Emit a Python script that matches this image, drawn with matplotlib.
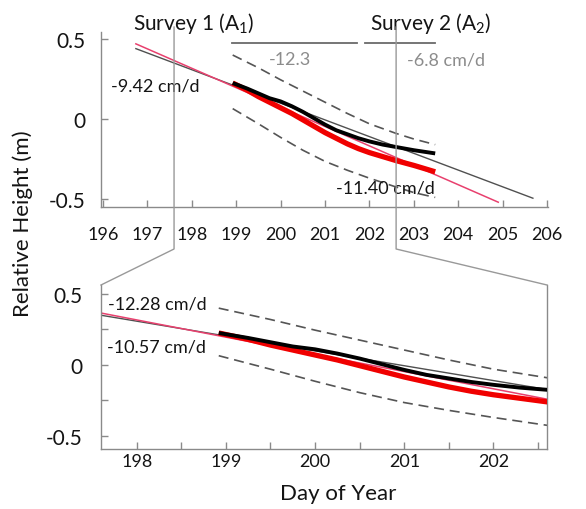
import matplotlib
matplotlib.use("Agg")
import matplotlib.pyplot as plt
from matplotlib.lines import Line2D
import numpy as np

plt.rcParams['font.family'] = ['Lato', 'DejaVu Sans']
plt.rcParams['mathtext.fontset'] = 'custom'
plt.rcParams['mathtext.rm'] = 'Lato'
plt.rcParams['mathtext.it'] = 'Lato'
plt.rcParams['axes.unicode_minus'] = False

# ---- data ----
days = [198.92, 199.25, 199.5, 199.75, 200.0, 200.25, 200.5, 200.75, 201.0, 201.25,
        201.5, 201.75, 202.0, 202.3, 202.6, 203.0, 203.48]
black = [0.225, 0.19, 0.16, 0.13, 0.11, 0.08, 0.045, 0.005, -0.035, -0.07,
         -0.095, -0.12, -0.14, -0.16, -0.175, -0.195, -0.215]
red = [0.225, 0.18, 0.14, 0.105, 0.07, 0.035, -0.005, -0.045, -0.085, -0.12,
       -0.155, -0.185, -0.21, -0.235, -0.26, -0.29, -0.33]

dash_days = [198.92, 199.5, 200.0, 200.5, 201.0, 201.5, 202.0, 202.6, 203.0, 203.48]
upper = [0.40, 0.32, 0.245, 0.175, 0.105, 0.035, -0.03, -0.09, -0.125, -0.16]
lower = [0.065, -0.03, -0.115, -0.195, -0.265, -0.32, -0.37, -0.425, -0.46, -0.49]

pink_x = [196.74, 204.9]
pink_y = [0.47, -0.52]
gray_x = [196.74, 205.68]
gray_y = [0.44, -0.495]

period_x = [[198.9, 201.72], [201.9, 203.48]]
period_y = 0.475

top_xticks = list(range(196, 207))
yticks = [0.5, 0, -0.5]
yticklabels = ['0.5', '0', '-0.5']
bot_xticks = [198, 199, 200, 201, 202]
bot_xminor = [198.5, 199.5, 200.5, 201.5, 202.5]
bot_yminor = [0.25, -0.25]

W, H = 586, 510
fig = plt.figure(figsize=(W / 100, H / 100), dpi=100)

def frac(l, t, r, b):
    return [l / W, 1 - b / H, (r - l) / W, (b - t) / H]

ax1 = fig.add_axes(frac(101, 33, 548, 208))
ax2 = fig.add_axes(frac(101, 286, 547, 450))

spine_c = '#8a8a8a'
text_c = '#141414'
gray_txt = '#8c8c8c'

for ax in (ax1, ax2):
    ax.spines['top'].set_visible(False)
    for s in ax.spines.values():
        s.set_color(spine_c)
        s.set_linewidth(1.0)
    ax.tick_params(direction='in', color=spine_c, length=5, width=1,
                   labelcolor=text_c)
    ax.tick_params(axis='x', labelsize=13)
    ax.tick_params(axis='y', labelsize=15)
    ax.tick_params(which='minor', direction='in', color=spine_c, length=5, width=1)
ax1.spines['right'].set_visible(False)

def draw(ax):
    ax.plot(gray_x, gray_y, color='#505050', lw=1.0, zorder=2)
    ax.plot(pink_x, pink_y, color='#e8406e', lw=1.1, zorder=2)
    ax.plot(dash_days, upper, color='#555555', lw=1.2, ls=(0, (6, 3.5)), zorder=2)
    ax.plot(dash_days, lower, color='#555555', lw=1.2, ls=(0, (6, 3.5)), zorder=2)
    ax.plot(days, red, color='#f00000', lw=3.8, solid_capstyle='butt', zorder=3)
    ax.plot(days, black, color='#000000', lw=2.8, solid_capstyle='butt', zorder=4)

draw(ax1)
draw(ax2)

ax1.set_xlim(195.955, 206.02)
ax1.set_ylim(-0.55, 0.544)
ax1.set_xticks(top_xticks)
ax1.set_xticklabels([str(t) for t in top_xticks])
ax1.set_yticks(yticks)
ax1.set_yticklabels(yticklabels)
ax1.tick_params(axis='x', pad=14)
ax1.tick_params(axis='y', pad=11)

ax2.set_xlim(197.6, 202.6)
ax2.set_ylim(-0.592, 0.563)
ax2.set_xticks(bot_xticks)
ax2.set_xticklabels([str(t) for t in bot_xticks])
ax2.set_xticks(bot_xminor, minor=True)
ax2.set_yticks(yticks)
ax2.set_yticklabels(yticklabels)
ax2.set_yticks(bot_yminor, minor=True)
ax2.tick_params(axis='x', pad=3)
ax2.tick_params(axis='y', pad=13)

# period bars
for px in period_x:
    ax1.plot(px, [period_y, period_y], color='#6a6a6a', lw=1.3, clip_on=False)

# annotations
ax1.text(198.05, 0.606, r'Survey 1 (A$_1$)', ha='center', va='center', fontsize=15, color=text_c, clip_on=False)
ax1.text(203.39, 0.606, r'Survey 2 (A$_2$)', ha='center', va='center', fontsize=15, color=text_c, clip_on=False)
ax1.text(196.18, 0.2125, '-9.42 cm/d', ha='left', va='center', fontsize=13, color=text_c)
ax1.text(199.74, 0.375, '-12.3', ha='left', va='center', fontsize=13, color=gray_txt)
ax1.text(202.85, 0.375, '-6.8 cm/d', ha='left', va='center', fontsize=13, color=gray_txt)
ax1.text(201.25, -0.425, '-11.40 cm/d', ha='left', va='center', fontsize=13, color=text_c)
ax2.text(197.68, 0.43, '-12.28 cm/d', ha='left', va='center', fontsize=13, color=text_c)
ax2.text(197.67, 0.127, '-10.57 cm/d', ha='left', va='center', fontsize=13, color=text_c)

# zoom connectors
inv = fig.transFigure.inverted()
def to_fig(ax, x, y):
    return inv.transform(ax.transData.transform((x, y)))

bend_y = 1 - 250 / H
for xd, corner in ((197.6, (0, 1)), (202.6, (1, 1))):
    xt, yt = to_fig(ax1, xd, 0.575)
    xc, yc = inv.transform(ax2.transAxes.transform(corner))
    fig.add_artist(Line2D([xt, xt, xc], [yt, bend_y, yc], color='#999999', lw=1.0))

fig.text(23 / W, 1 - 224 / H, 'Relative Height (m)', rotation=90, ha='center', va='center',
         fontsize=16, color=text_c)
fig.text(338 / W, 1 - 494 / H, 'Day of Year', ha='center', va='center', fontsize=16, color=text_c)

fig.savefig('out.png', dpi=100)
